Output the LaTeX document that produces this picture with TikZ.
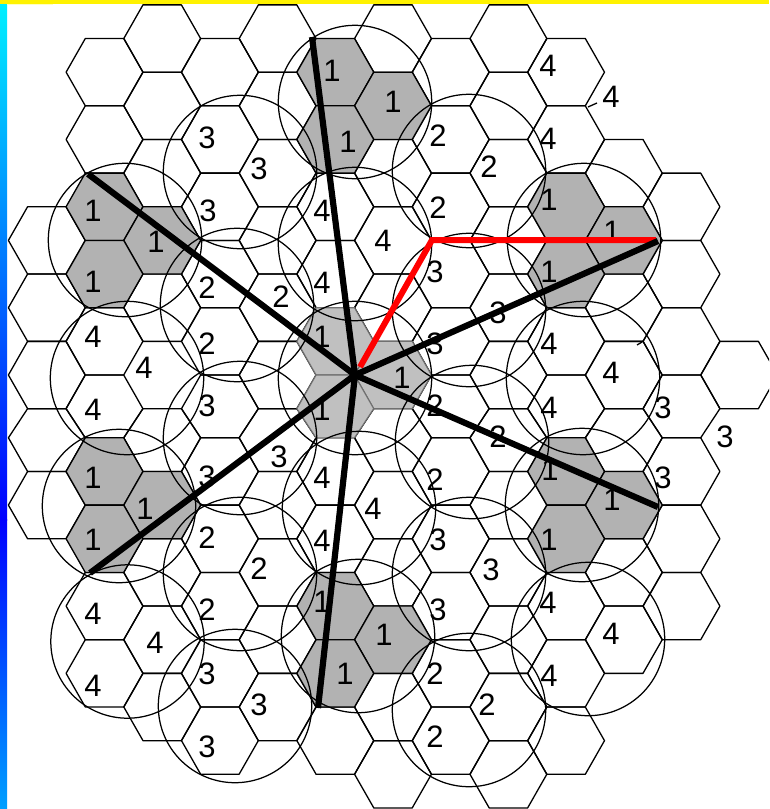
\documentclass[tikz,border=0pt]{standalone}
\usepackage{fontspec}
\setmainfont{Liberation Sans}
\definecolor{cellgray}{HTML}{B2B2B2}
\definecolor{hubgray}{HTML}{C0C0C0}
\definecolor{hubedge}{HTML}{707070}
\definecolor{stripA}{HTML}{00F0FF}
\definecolor{stripB}{HTML}{0000FF}
\definecolor{stripC}{HTML}{00A0FF}
\definecolor{paleyellow}{HTML}{FFFFC0}
\newcommand{\hexcell}[3]{%
  \pgfmathsetmacro\cxa{393+57.7*#1-38.4}%
  \pgfmathsetmacro\cxb{393+57.7*#1-19.2}%
  \pgfmathsetmacro\cxc{393+57.7*#1+19.2}%
  \pgfmathsetmacro\cxd{393+57.7*#1+38.4}%
  \pgfmathsetmacro\cya{Yv(-(#2)-1)}%
  \pgfmathsetmacro\cyb{Yv(-(#2))}%
  \pgfmathsetmacro\cyc{Yv(-(#2)+1)}%
  \draw[#3] (\cxa,\cyb) -- (\cxb,\cya) -- (\cxc,\cya) -- (\cxd,\cyb) -- (\cxc,\cyc) -- (\cxb,\cyc) -- cycle;%
}
\begin{document}
\begin{tikzpicture}[x=1pt,y=-1pt,
  declare function={Yv(\v)=375+33.65*\v-(\v>=2)*4.5;},
  plainhex/.style={line width=1.3pt,line join=round},
  grayhex/.style={plainhex,fill=cellgray},
  hubhex/.style={line width=1.1pt,line join=round,draw=hubedge,fill=hubgray},
  cellcircle/.style={line width=1.25pt},
  spoke/.style={line width=6.2pt,black},
  redpath/.style={line width=6pt,red,line join=miter},
  num/.style={font=\fontsize{31}{31}\selectfont,inner sep=0pt,anchor=center,text=black}]
\useasboundingbox (0,0) rectangle (769,809);
\clip (0,0) rectangle (769,809);
\fill[white] (0,0) rectangle (769,809);
% plain cells
\foreach \k/\rows in {%
  -6/{4,2,0,-2,-4},
  -5/{9,7,1,-1,-7,-9},
  -4/{10,8,6,2,-2,-6,-8,-10},
  -3/{9,7,5,3,1,-1,-3,-5,-7,-9,-11},
  -2/{10,8,6,4,2,0,-2,-4,-6,-8,-10},
  -1/{5,3,-3,-5,-11},
  0/{10,6,4,2,-2,-4,-6,-10,-12},
  1/{9,7,5,3,1,-1,-3,-5,-7,-9,-11},
  2/{10,8,6,4,2,0,-2,-4,-6,-8,-10,-12},
  3/{9,7,1,-1,-7,-9,-11},
  4/{6,2,0,-2,-6,-8},
  5/{5,3,1,-1,-3,-5,-7},
  6/{0}}{%
  \foreach \r in \rows {\hexcell{\k}{\r}{plainhex}}
}
% gray cells
\foreach \k/\r in {-1/9,0/8,-1/7,-5/5,-4/4,-5/3,3/5,4/4,3/3,-5/-3,-4/-4,-5/-5,3/-3,4/-4,3/-5,-1/-7,0/-8,-1/-9}{%
  \hexcell{\k}{\r}{grayhex}
}
\foreach \k/\r in {-1/1,0/0,-1/-1}{\hexcell{\k}{\r}{hubhex}}
% small stubs
\coordinate (stubAa) at (588,107);
\coordinate (stubAb) at (597,103);
\coordinate (stubBa) at (642,342);
\coordinate (stubBb) at (637,345);
\draw[plainhex] (stubAa) -- (stubAb);
\draw[plainhex] (stubBa) -- (stubBb);
% labels
\foreach \x/\y/\t [count=\i] in {%
  332/71/1,393/102/1,348/142/1,
  207/138/3,259/169/3,208/211/3,
  438/136/2,489/167/2,438/208/2,
  548/66/4,611/97/4,548/139/4,
  93/211/1,156/242/1,93/282/1,
  322/211/4,383/241/4,322/283/4,
  549/200/1,612/232/1,549/272/1,
  207/288/2,281/297/2,207/344/2,
  435/272/3,498/313/3,435/344/3,
  93/337/4,144/368/4,93/410/4,
  322/337/1,402/378/1,322/410/1,
  549/344/4,611/373/4,549/408/4,
  207/406/3,279/457/3,207/477/3,
  435/406/2,498/437/2,435/480/2,
  663/408/3,725/437/3,663/478/3,
  93/478/1,145/509/1,93/540/1,
  322/478/4,373/509/4,322/541/4,
  550/470/1,612/500/1,549/540/1,
  207/538/2,259/569/2,207/610/2,
  438/540/3,491/570/3,438/610/3,
  93/614/4,155/643/4,93/686/4,
  322/602/1,384/635/1,345/674/1,
  548/603/4,611/634/4,549/676/4,
  207/674/3,259/705/3,207/747/3,
  435/674/2,487/705/2,435/737/2}{%
  \node[num] (lab\i) at (\x,\y) {\t};
}
% circles
\foreach \x/\y in {355/102,240/172,469/171,355/244,125/240,237/305,469/310,584/240,
  127/378,355/378,583/378,240/438,472/442,119/506,359/508,582/505,
  240/574,469/574,127.5/641.5,358/636,588/639,235/706,469/710}{%
  \draw[cellcircle] (\x,\y) circle[radius=76.7];
}
% paths
\coordinate (hub) at (355,375);
\coordinate (redstart) at (360,367);
\coordinate (redmid) at (432,240);
\coordinate (redend) at (656,240);
\coordinate (spA) at (312,37);
\coordinate (spB) at (88,174);
\coordinate (spC) at (90,573);
\coordinate (spD) at (318,708);
\coordinate (spE) at (658,507);
\coordinate (spF) at (658,241);
\draw[redpath] (redstart) -- (redmid) -- (redend);
\foreach \e in {spA,spB,spC,spD,spE,spF}{\draw[spoke] (hub) -- (\e);}
% frame bars
\shade[top color=stripA,bottom color=stripB] (0,3) rectangle (7,520);
\shade[top color=stripB,bottom color=stripC] (0,519.5) rectangle (7,809);
\fill[paleyellow] (7,4) rectangle (53,5);
\fill[yellow] (0,0) rectangle (769,4);
\end{tikzpicture}
\end{document}
